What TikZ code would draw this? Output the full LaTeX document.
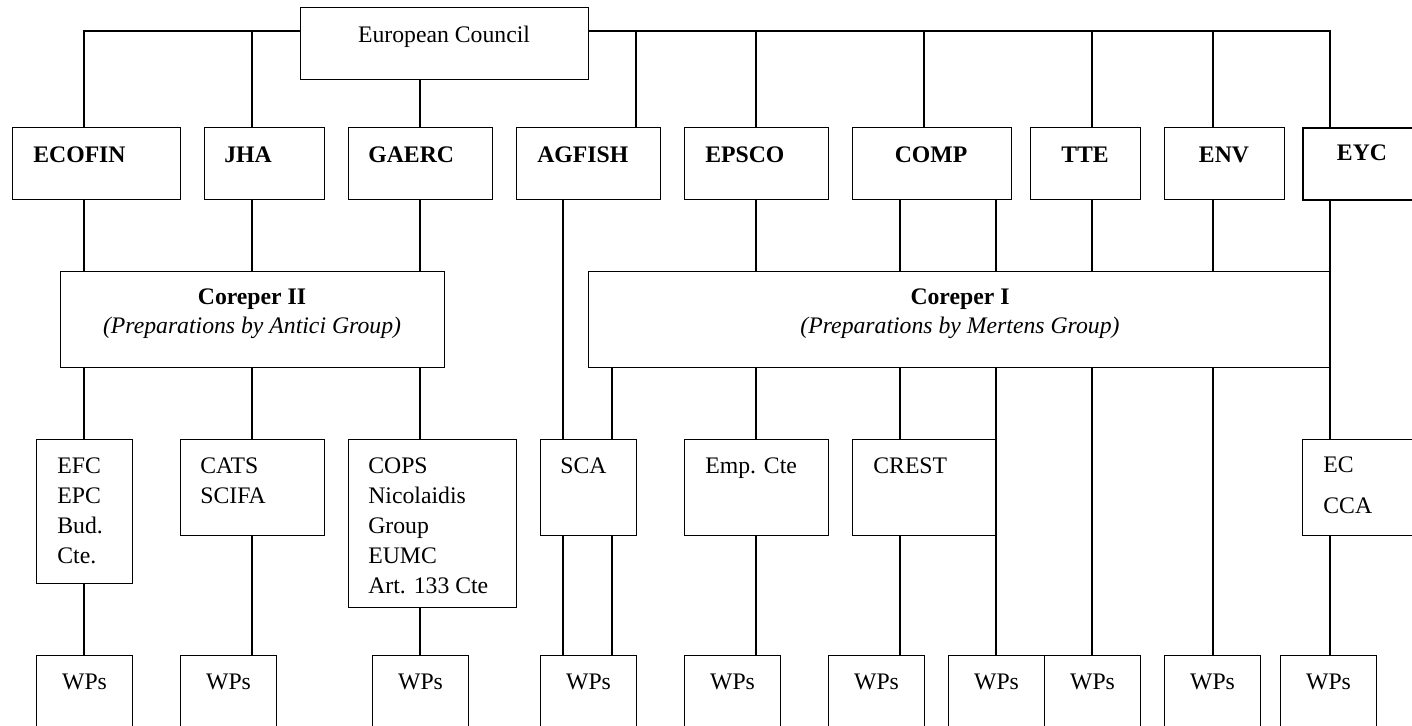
\documentclass[tikz,border=0pt]{standalone}
\usepackage{fontspec}
\setmainfont{Liberation Serif}

\def\px{0.02cm}
\tikzset{
    box/.style 2 args={
        rectangle,
        draw=black,
        line width=0.6pt,
        anchor=north west,
        inner sep=0pt,
        minimum width=#1*\px,
        minimum height=#2*\px
    },
    txt/.style={
        inner sep=0pt,
        font=\fontsize{13.5}{17}\selectfont,
        align=left
    },
    head/.style={
        txt,
        font=\fontsize{13.5}{17}\selectfont\bfseries
    },
    link/.style={
        draw=black,
        line width=0.6pt
    }
}

\begin{document}
\begin{tikzpicture}[x=\px, y=-\px]
    \path[use as bounding box] (0,0) rectangle (1412,725);
    \clip (0,0) rectangle (1412,725);

    % Columns of the connectors
    \foreach \x in {84,252,420,563,612,636,756,900,924,996,1092,1213,1330}
        \coordinate (x\x) at (\x,31);

    % Top
    \node[box={288}{72}] (council) at (300,7) {};
    \node[txt, anchor=base] (councilT) at (444,42) {European Council};

    % Council configurations
    \node[box={168}{72}] (ecofin) at (12,127) {};
    \node[box={120}{72}] (jha) at (204,127) {};
    \node[box={144}{72}] (gaerc) at (348,127) {};
    \node[box={144}{72}] (agfish) at (516,127) {};
    \node[box={144}{72}] (epsco) at (684,127) {};
    \node[box={159}{72}] (comp) at (852,127) {};
    \node[box={110}{72}] (tte) at (1030,127) {};
    \node[box={120}{72}] (env) at (1164,127) {};
    \node[box={120}{72}, line width=1pt] (eyc) at (1302,127) {};

    \node[head, anchor=base west] (ecofinT) at (33,162) {ECOFIN};
    \node[head, anchor=base west] (jhaT) at (224,162) {JHA};
    \node[head, anchor=base west] (gaercT) at (368,162) {GAERC};
    \node[head, anchor=base west] (agfishT) at (537,162) {AGFISH};
    \node[head, anchor=base west] (epscoT) at (705,162) {EPSCO};
    \node[head, anchor=base] (compT) at (931,162) {COMP};
    \node[head, anchor=base] (tteT) at (1085,162) {TTE};
    \node[head, anchor=base] (envT) at (1224,162) {ENV};
    \node[head, anchor=base] (eycT) at (1362,160) {EYC};

    % Coreper (base = last line)
    \node[box={384}{96}] (coreII) at (60,271) {};
    \node[box={742}{96}] (coreI) at (588,271) {};
    \node[txt, align=center, anchor=base] (coreIIT) at (252,333)
        {\textbf{Coreper II}\\[-1pt]\textit{(Preparations by Antici Group)}};
    \node[txt, align=center, anchor=base] (coreIT) at (960,333)
        {\textbf{Coreper I}\\[-1pt]\textit{(Preparations by Mertens Group)}};

    % Committees
    \node[box={96}{144}] (efc) at (36,439) {};
    \node[box={144}{96}] (cats) at (180,439) {};
    \node[box={168}{168}] (cops) at (348,439) {};
    \node[box={96}{96}] (sca) at (540,439) {};
    \node[box={144}{96}] (emp) at (684,439) {};
    \node[box={144}{96}] (crest) at (852,439) {};
    \node[box={120}{96}] (ec) at (1302,439) {};

    \node[txt, anchor=base west] (efcT) at (57,563) {EFC\\EPC\\Bud.\\Cte.};
    \node[txt, anchor=base west] (catsT) at (200,503) {CATS\\SCIFA};
    \node[txt, anchor=base west] (copsT) at (368,593)
        {COPS\\Nicolaidis\\Group\\EUMC\\Art. 133 Cte};
    \node[txt, anchor=base west] (scaT) at (560,473) {SCA};
    \node[txt, anchor=base west] (empT) at (705,473) {Emp. Cte};
    \node[txt, anchor=base west] (crestT) at (873,473) {CREST};
    \node[txt, anchor=base west] (ecT) at (1323,513) {EC\\[6pt]CCA};

    % Working parties
    \foreach \n/\x in {1/36, 2/180, 3/372, 4/540, 5/684, 6/828, 7/948, 8/1044, 9/1164, 10/1280} {
        \node[box={96}{100}] (wp\n) at (\x,655) {};
        \node[txt, anchor=base, yshift=-34*\px] (wpT\n) at (wp\n.north) {WPs};
    }

    % Edges
    \draw[link] (council.west |- x84) -| (x84 |- ecofin.north);
    \draw[link] (x252) -- (x252 |- jha.north);
    \draw[link] (council.east |- x1330) -| (x1330 |- eyc.north);
    \draw[link] (x420 |- council.south) -- (x420 |- gaerc.north);
    \foreach \x/\b in {636/agfish, 756/epsco, 924/comp, 1092/tte, 1213/env}
        \draw[link] (x\x) -- (x\x |- \b.north);

    \foreach \x/\a/\b in {84/ecofin/coreII, 252/jha/coreII, 420/gaerc/coreII,
            563/agfish/sca, 756/epsco/coreI, 900/comp/coreI, 996/comp/coreI,
            1092/tte/coreI, 1213/env/coreI, 1330/eyc/ec,
            84/coreII/efc, 252/coreII/cats, 420/coreII/cops,
            612/coreI/sca, 756/coreI/emp, 900/coreI/crest,
            996/coreI/wp7, 1092/coreI/wp8, 1213/coreI/wp9,
            84/efc/wp1, 252/cats/wp2, 420/cops/wp3, 563/sca/wp4, 612/sca/wp4,
            756/emp/wp5, 900/crest/wp6, 1330/ec/wp10}
        \draw[link] (x\x |- \a.south) -- (x\x |- \b.north);
\end{tikzpicture}
\end{document}
